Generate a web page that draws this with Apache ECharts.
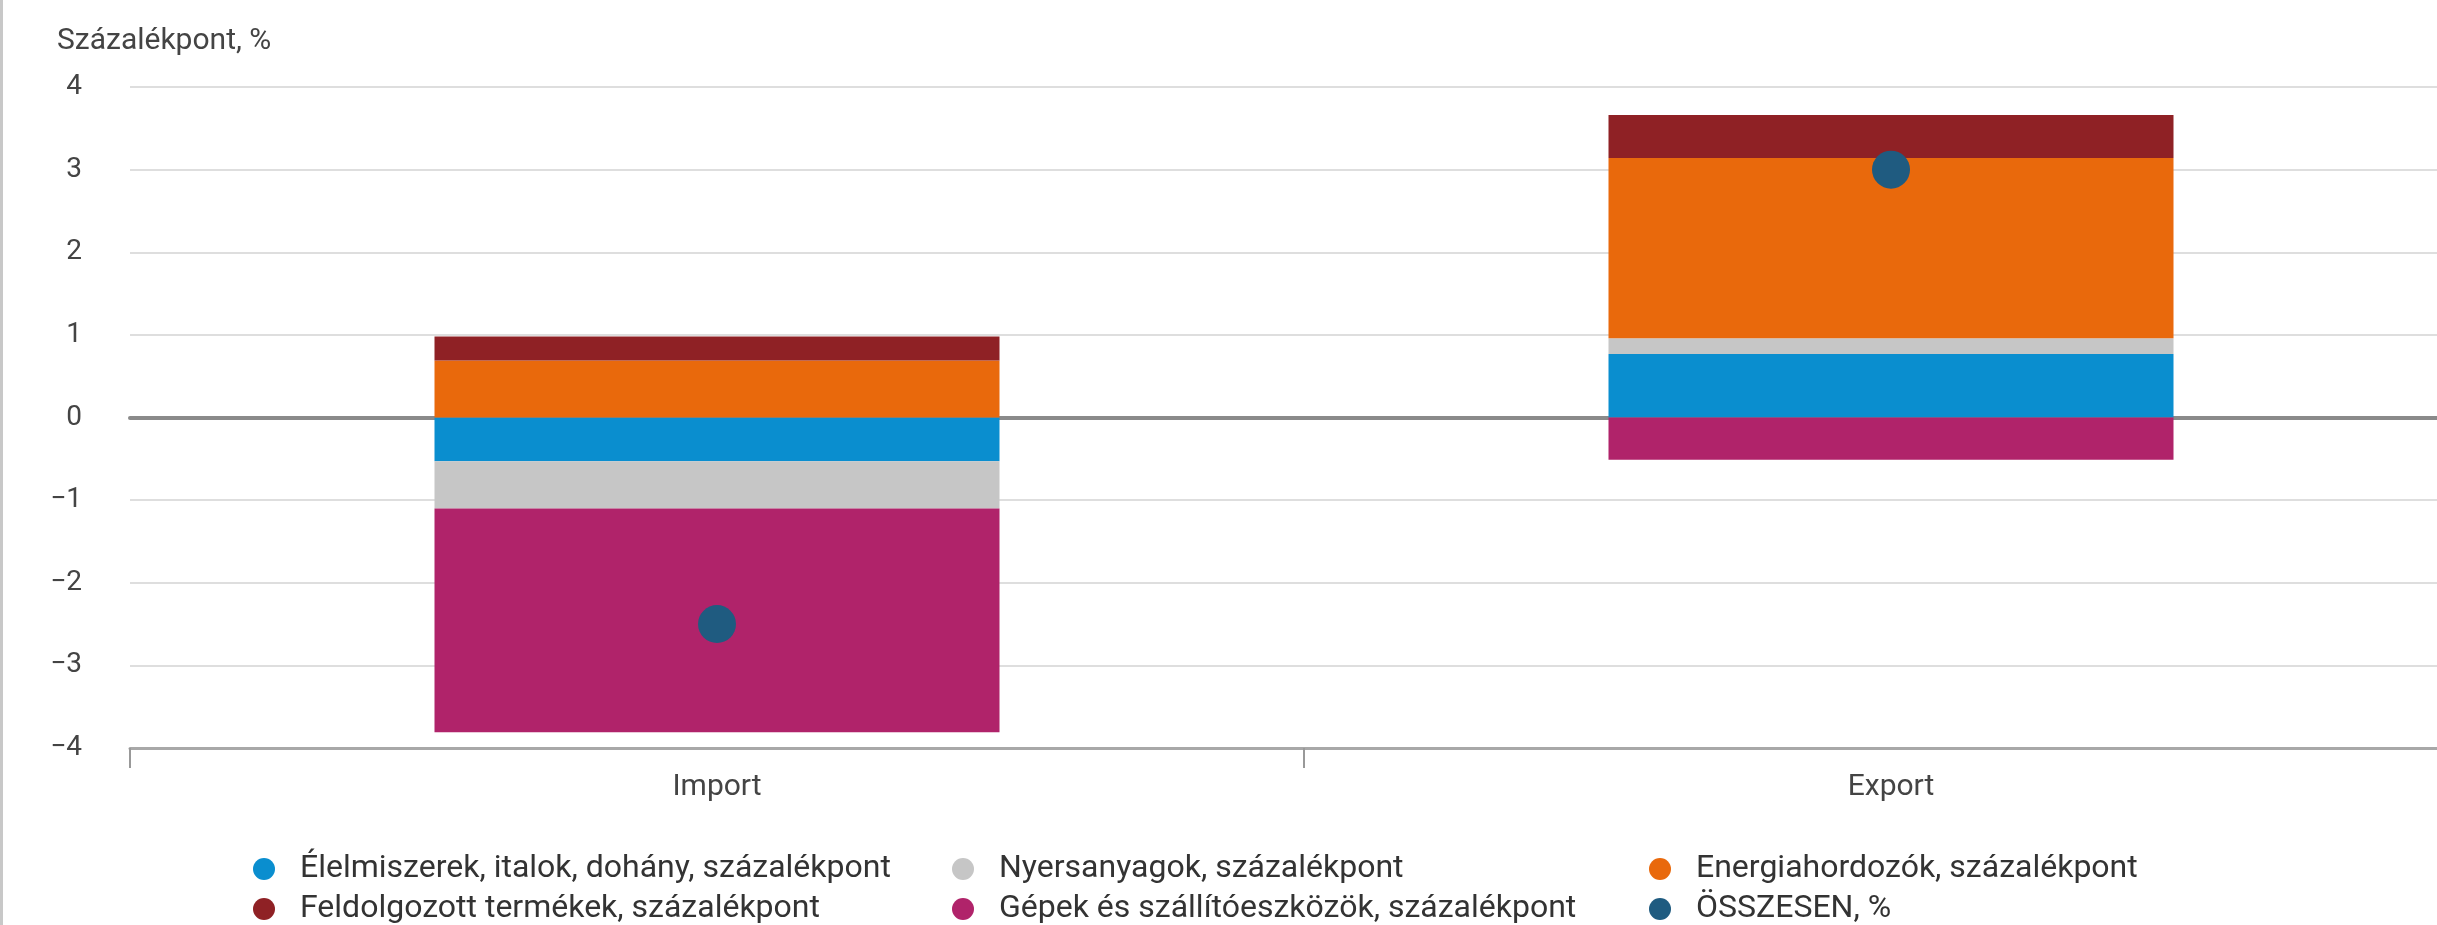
<!DOCTYPE html>
<html>
<head>
<meta charset="utf-8">
<script src="https://cdn.jsdelivr.net/npm/echarts@6/dist/echarts.min.js"></script>
<style>
html,body{margin:0;padding:0;background:#fff;overflow:hidden;width:2437px;height:925px;}
#chart{width:2520px;height:925px;}
</style>
</head>
<body>
<div id="chart"></div>
<script>
const categories = ['Import', 'Export'];
const seriesNames = [
  'Élelmiszerek, italok, dohány, százalékpont',
  'Nyersanyagok, százalékpont',
  'Energiahordozók, százalékpont',
  'Feldolgozott termékek, százalékpont',
  'Gépek és szállítóeszközök, százalékpont',
  'ÖSSZESEN, %'
];
const food = [-0.53, 0.77];
const rawMaterials = [-0.57, 0.19];
const energy = [0.69, 2.18];
const processed = [0.29, 0.52];
const machines = [-2.71, -0.51];
const total = [-2.50, 3.00];
const yMin = -4, yMax = 4, yStep = 1;
const yAxisTitle = 'Százalékpont, %';

const colors = ['#0a8ecf', '#c6c6c6', '#e9690c', '#8f2125', '#b0236a', '#1f5b80'];
const FONT = 'Roboto';

const barValues = [food, rawMaterials, energy, processed, machines];
const barSeries = barValues.map((vals, i) => ({
  name: seriesNames[i],
  type: 'bar',
  stack: 'total',
  barWidth: 565,
  data: vals,
  itemStyle: { color: colors[i] },
  emphasis: { disabled: true }
}));

const chart = echarts.init(document.getElementById('chart'), null, { renderer: 'canvas' });

const legendCommon = {
  orient: 'vertical',
  top: 853,
  height: 72,
  padding: 0,
  itemWidth: 22,
  itemHeight: 22,
  itemGap: 8,
  icon: 'circle',
  textStyle: { fontFamily: FONT, fontSize: 32, color: '#333', lineHeight: 32, padding: [0, 0, 0, 20] },
  selectedMode: false
};

chart.setOption({
  animation: false,
  backgroundColor: '#fff',
  grid: { left: 130, top: 87, width: 2348, height: 661, containLabel: false },
  graphic: [
    { type: 'rect', left: 0, top: 0, shape: { width: 3, height: 925 }, style: { fill: '#c8c8c8' } },
    { type: 'text', left: 57, top: 26, style: { text: yAxisTitle, fontFamily: FONT, fontSize: 30, fill: '#444' } }
  ],
  legend: [
    Object.assign({}, legendCommon, { left: 253, data: [seriesNames[0], seriesNames[3]] }),
    Object.assign({}, legendCommon, { left: 952, data: [seriesNames[1], seriesNames[4]] }),
    Object.assign({}, legendCommon, { left: 1649, data: [seriesNames[2], seriesNames[5]] })
  ],
  xAxis: [
    {
      type: 'category',
      data: categories,
      position: 'bottom',
      boundaryGap: true,
      axisLine: { show: true, onZero: false, lineStyle: { color: '#a8a8a8', width: 3 } },
      axisTick: { show: true, length: 20, interval: 0, lineStyle: { color: '#999', width: 2 } },
      axisLabel: { fontFamily: FONT, fontSize: 30, color: '#444', margin: 24 },
      splitLine: { show: false }
    },
    {
      type: 'category',
      data: categories,
      axisLine: { show: true, onZero: true, lineStyle: { color: '#8a8a8a', width: 4 } },
      axisTick: { show: false },
      axisLabel: { show: false },
      splitLine: { show: false }
    }
  ],
  yAxis: {
    type: 'value',
    min: yMin,
    max: yMax,
    interval: yStep,
    axisLine: { show: false },
    axisTick: { show: false },
    axisLabel: {
      fontFamily: FONT, fontSize: 28, color: '#444', margin: 48,
      formatter: v => String(v).replace('-', '\u2212')
    },
    splitLine: { show: true, lineStyle: { color: '#dedede', width: 2 } }
  },
  series: barSeries.concat([{
    name: seriesNames[5],
    type: 'scatter',
    data: total,
    symbol: 'circle',
    symbolSize: 38,
    itemStyle: { color: colors[5], opacity: 1 },
    z: 5,
    emphasis: { disabled: true }
  }])
});
</script>
</body>
</html>
